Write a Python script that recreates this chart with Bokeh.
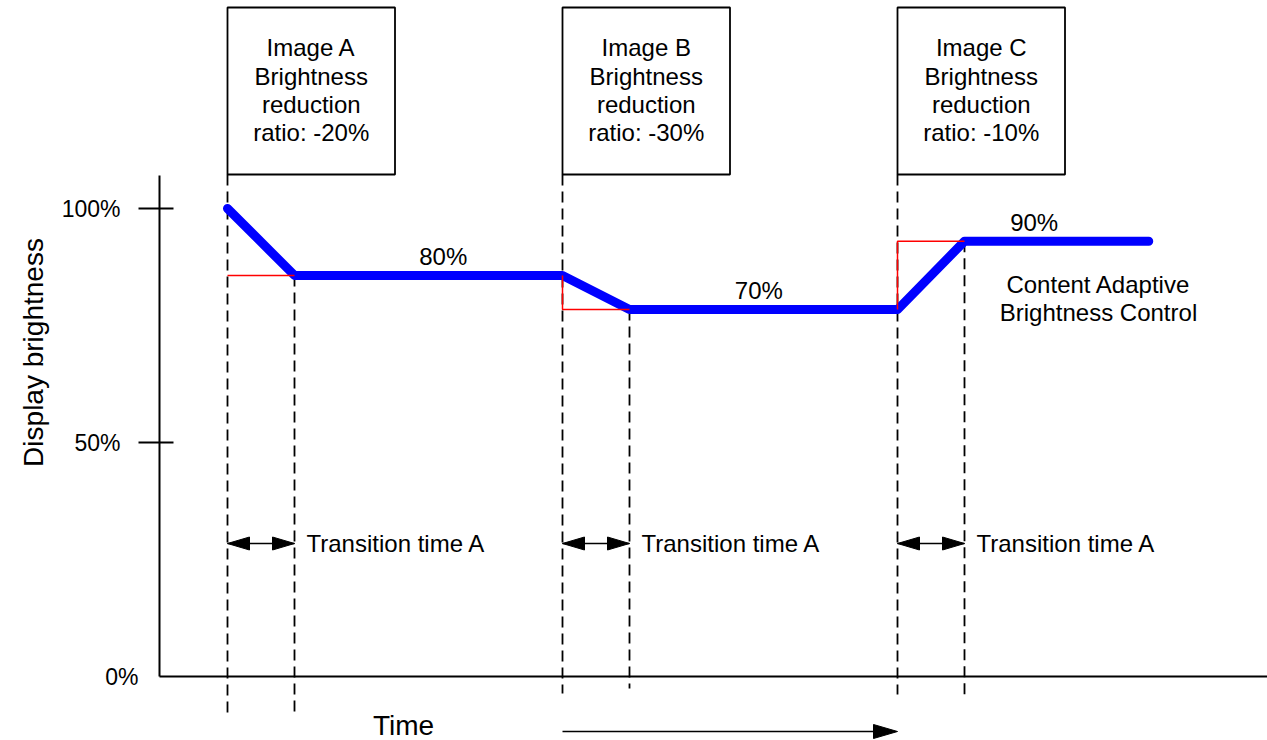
import math
from bokeh.plotting import figure
from bokeh.models import Range1d, FixedTicker
from bokeh.core.properties import value
from bokeh.embed import file_html
from bokeh.resources import INLINE

# ---------------- data ----------------
images = ["Image A", "Image B", "Image C"]
ratios = ["ratio: -20%", "ratio: -30%", "ratio: -10%"]
image_start = [0, 5, 10]          # time at which each image appears
transition = 1                    # transition time A
levels_before = [100, 85.7, 78.4]  # brightness before each transition (%)
levels_after = [85.7, 78.4, 93.0]  # brightness after each transition (%)
level_labels = ["80%", "70%", "90%"]
level_label_x = [3.22, 7.93, 12.04]
end_time = 13.75
y_ticks = [50, 100]
y_tick_labels = {50: "50%", 100: "100%"}

FONT = "Liberation Sans"
PXX = 67.0   # px per time unit
PXY = 4.68   # px per percent
OX, OY = 227, 676   # pixel position of time 0 / 0 %

def tx(px):   # horizontal pixel -> time units
    return (px - OX) / PXX

def ty(py):   # vertical pixel -> percent
    return (OY - py) / PXY

W, H = 1267, 740
p = figure(width=W, height=H, output_backend="svg", toolbar_location=None,
           x_axis_location=None, y_axis_location="left",
           min_border_left=0, min_border_right=0, min_border_top=0, min_border_bottom=0)
p.x_range = Range1d(tx(0), tx(W))
p.y_range = Range1d(ty(H), ty(0))
p.outline_line_color = None
p.grid.grid_line_color = None
p.background_fill_color = "white"
p.border_fill_color = "white"

axis_t = tx(159)

# y axis (fixed inside the frame)
ax = p.yaxis[0]
ax.fixed_location = axis_t
ax.ticker = FixedTicker(ticks=y_ticks)
ax.major_label_overrides = y_tick_labels
ax.bounds = (0, ty(175))
ax.axis_line_width = 2
ax.axis_line_color = "black"
ax.major_tick_line_width = 2
ax.major_tick_line_color = "black"
ax.major_tick_out = 21
ax.major_tick_in = 14
ax.minor_tick_line_color = None
ax.major_label_standoff = 18
ax.major_label_text_font = FONT
ax.major_label_text_font_size = "23px"
ax.major_label_text_color = "black"

# x axis line at 0 %
p.segment(x0=[axis_t], y0=[0], x1=[tx(W)], y1=[0], line_color="black", line_width=2)

box_bottom = ty(174)
box_top = ty(7)
box_w = 167.5 / PXX

# dashed event lines
dx, dtop, dbot = [], [], []
bottoms_a = [ty(712), ty(693), ty(694)]
bottoms_b = [ty(712), ty(688), ty(694)]
for i, s in enumerate(image_start):
    dx += [s, s + transition]
    dtop += [box_bottom, levels_after[i]]
    dbot += [bottoms_a[i], bottoms_b[i]]
p.segment(x0=dx, y0=dtop, x1=dx, y1=dbot, line_color="black", line_width=1.8,
          line_dash="11 6")

# boxes
p.quad(left=image_start, right=[s + box_w for s in image_start],
       bottom=box_bottom, top=box_top, fill_color=None, line_color="black", line_width=1.8)

# box texts
rows = [images, ["Brightness"] * 3, ["reduction"] * 3, ratios]
row_py = [47, 76, 104, 132]
for r, ry in zip(rows, row_py):
    p.text(x=[s + box_w / 2 for s in image_start], y=[ty(ry)] * 3, text=r,
           text_font=value(FONT), text_font_size="24px", text_align="center",
           text_baseline="middle", text_color="black")

# brightness curve
bx, by = [], []
for i, s in enumerate(image_start):
    bx += [s, s + transition]
    by += [levels_before[i], levels_after[i]]
bx.append(end_time)
by.append(levels_after[-1])
p.line(bx, by, line_color="#0000FF", line_width=9, line_cap="round", line_join="round")

# red reference lines
rxs, rys = [], []
for i, s in enumerate(image_start):
    if i == 0:
        rxs.append([s, s + transition])
        rys.append([levels_after[i], levels_after[i]])
    else:
        rxs.append([s, s, s + transition])
        rys.append([levels_before[i], levels_after[i], levels_after[i]])
p.multi_line(rxs, rys, line_color="#FF0000", line_width=1.5)

# level labels
p.text(x=level_label_x, y=[l + 19 / PXY for l in levels_after], text=level_labels,
       text_font=value(FONT), text_font_size="24px", text_align="center",
       text_baseline="middle", text_color="black")

p.text(x=[tx(1098)] * 2, y=[ty(284), ty(312)],
       text=["Content Adaptive", "Brightness Control"],
       text_font=value(FONT), text_font_size="24px", text_align="center",
       text_baseline="middle", text_color="black")

# transition double arrows
ay = ty(543)
hl = 22 / PXX
hh = 6.5 / PXY
p.segment(x0=list(image_start), y0=ay, x1=[s + transition for s in image_start], y1=ay,
          line_color="black", line_width=1.5)
hxs, hys = [], []
for s in image_start:
    hxs.append([s, s + hl, s + hl]); hys.append([ay, ay + hh, ay - hh])
    e = s + transition
    hxs.append([e, e - hl, e - hl]); hys.append([ay, ay + hh, ay - hh])
p.patches(hxs, hys, fill_color="black", line_color="black", line_width=1)
p.text(x=[s + transition + 12 / PXX for s in image_start], y=[ay] * 3,
       text=["Transition time A"] * 3, text_font=value(FONT), text_font_size="24px",
       text_align="left", text_baseline="middle", text_color="black")

# Time arrow
tay = ty(731)
p.segment(x0=[image_start[1]], y0=[tay], x1=[image_start[2] - 20 / PXX], y1=[tay],
          line_color="black", line_width=1.5)
thl = 24 / PXX
thh = 7 / PXY
p.patches([[image_start[2], image_start[2] - thl, image_start[2] - thl]],
          [[tay, tay + thh, tay - thh]], fill_color="black", line_color="black")
p.text(x=[tx(403)], y=[ty(725)], text=["Time"], text_font=value(FONT),
       text_font_size="28px", text_align="center", text_baseline="middle", text_color="black")

# 0% label and axis title
p.text(x=[tx(138)], y=[0], text=["0%"], text_font=value(FONT), text_font_size="23px",
       text_align="right", text_baseline="middle", text_color="black")
p.text(x=[tx(33)], y=[ty(352)], text=["Display brightness"], text_font=value(FONT),
       text_font_size="28px", text_align="center", text_baseline="middle",
       angle=math.pi / 2, text_color="black")

open("out.html", "w").write(file_html(p, INLINE))
